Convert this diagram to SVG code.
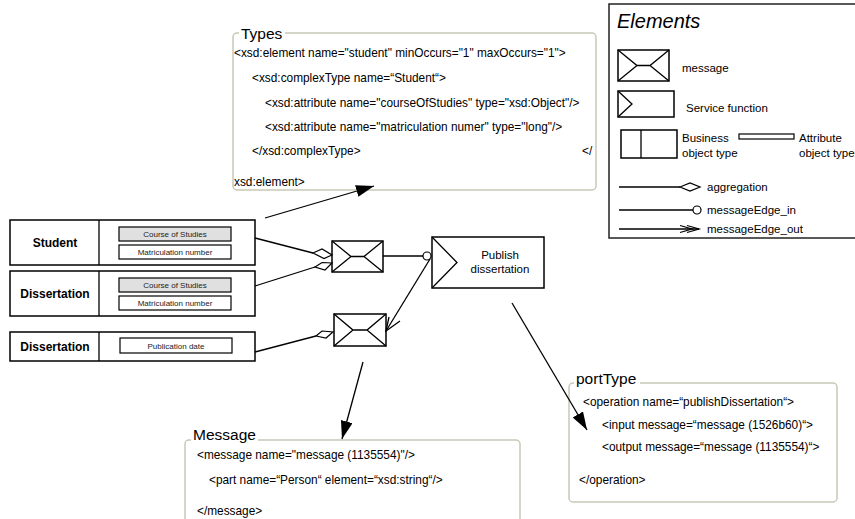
<svg xmlns="http://www.w3.org/2000/svg" width="855" height="519" viewBox="0 0 855 519">
<style>
text{font-family:"Liberation Sans",Arial,sans-serif;fill:#000}
.code{font-size:11.85px}
.ttl{font-size:15.5px}
.box{fill:#fff;stroke:#c8c8b6;stroke-width:1.5}
.n{fill:#fff;stroke:#000;stroke-width:1.5}
.ln{fill:none;stroke:#000;stroke-width:1.3}
.lbl{font-size:11.5px}
.bo{font-size:12px;font-weight:bold;text-anchor:middle}
.at{fill:#fff;stroke:#000;stroke-width:1.2}
.atg{fill:#e0e0e0;stroke:#000;stroke-width:1.2}
.att{font-size:8px;text-anchor:middle;fill:#222}
</style>
<defs>
<marker id="fa" markerWidth="18" markerHeight="12" refX="18" refY="6" orient="auto" markerUnits="userSpaceOnUse">
<path d="M0,0 L18,6 L0,12 z" fill="#000"/>
</marker>
</defs>

<g id="types">
<rect class="box" x="233" y="33" width="363" height="157" rx="4"/>
<rect x="239" y="26" width="46" height="12" fill="#fff"/>
<text class="ttl" x="241" y="39">Types</text>
<text class="code" x="234" y="57">&lt;xsd:element name="student" minOccurs="1" maxOccurs="1"&gt;</text>
<text class="code" x="252" y="82">&lt;xsd:complexType name=“Student“&gt;</text>
<text class="code" x="265" y="107">&lt;xsd:attribute name="courseOfStudies" type="xsd:Object"/&gt;</text>
<text class="code" x="265" y="131">&lt;xsd:attribute name="matriculation numer" type="long"/&gt;</text>
<text class="code" x="252" y="155">&lt;/xsd:complexType&gt;</text>
<text class="code" x="582" y="155">&lt;/</text>
<text class="code" x="234" y="186">xsd:element&gt;</text>
</g>

<g id="legend">
<rect x="609" y="4" width="260" height="234" fill="#fff" stroke="#222" stroke-width="1.5"/>
<text x="617" y="28" font-size="20" font-style="italic">Elements</text>
<rect class="n" x="618" y="50" width="51" height="31"/>
<path class="ln" d="M618,50 L637,65.5 L650,65.5 L669,50 M618,81 L637,65.5 M650,65.5 L669,81"/>
<text class="lbl" x="682" y="72">message</text>
<rect class="n" x="618" y="91" width="56" height="26"/>
<path class="ln" d="M618,91 L632,104 L618,117"/>
<text class="lbl" x="686" y="112">Service function</text>
<rect class="n" x="621" y="130" width="56" height="28"/>
<line class="ln" x1="641" y1="130" x2="641" y2="158"/>
<text class="lbl" x="682" y="142">Business</text>
<text class="lbl" x="682" y="157">object type</text>
<rect class="at" x="739" y="134" width="55" height="5"/>
<text class="lbl" x="799" y="142">Attribute</text>
<text class="lbl" x="799" y="157">object type</text>
<line class="ln" x1="619" y1="187" x2="680" y2="187"/>
<polygon points="680,187 690,183 700,187 690,191" fill="#fff" stroke="#000" stroke-width="1.2"/>
<text class="lbl" x="707" y="191">aggregation</text>
<line class="ln" x1="619" y1="210" x2="693" y2="210"/>
<circle cx="697" cy="210" r="4" fill="#fff" stroke="#000" stroke-width="1.2"/>
<text class="lbl" x="707" y="214">messageEdge_in</text>
<line class="ln" x1="619" y1="229" x2="699" y2="229"/>
<path class="ln" d="M680,225.5 L692,229 L680,232.5 M687,225.5 L699,229 L687,232.5"/>
<text class="lbl" x="707" y="233">messageEdge_out</text>
</g>

<g id="student">
<rect class="n" x="10" y="220" width="245" height="45"/>
<line class="ln" x1="99" y1="220" x2="99" y2="265"/>
<text class="bo" x="55" y="247">Student</text>
<rect class="atg" x="119" y="227" width="112" height="14"/>
<text class="att" x="175" y="237">Course of Studies</text>
<rect class="at" x="119" y="245" width="112" height="14"/>
<text class="att" x="175" y="255">Matriculation number</text>
</g>

<g id="dissertation1">
<rect class="n" x="10" y="271" width="245" height="45"/>
<line class="ln" x1="99" y1="271" x2="99" y2="316"/>
<text class="bo" x="55" y="298">Dissertation</text>
<rect class="atg" x="119" y="278" width="112" height="14"/>
<text class="att" x="175" y="288">Course of Studies</text>
<rect class="at" x="119" y="296" width="112" height="14"/>
<text class="att" x="175" y="306">Matriculation number</text>
</g>

<g id="dissertation2">
<rect class="n" x="10" y="332" width="245" height="29"/>
<line class="ln" x1="99" y1="332" x2="99" y2="361"/>
<text class="bo" x="55" y="351">Dissertation</text>
<rect class="at" x="120" y="338" width="112" height="15"/>
<text class="att" x="176" y="348.5">Publication date</text>
</g>

<g id="msg1">
<rect class="n" x="332" y="241" width="51" height="31"/>
<path class="ln" d="M332,241 L351,256.5 L364,256.5 L383,241 M332,272 L351,256.5 M364,256.5 L383,272"/>
</g>

<g id="msg2">
<rect class="n" x="334" y="314" width="52" height="32"/>
<path class="ln" d="M334,314 L353,330 L367,330 L386,314 M334,346 L353,330 M367,330 L386,346"/>
</g>

<g id="publish">
<rect class="n" x="432" y="237" width="112" height="51"/>
<path class="ln" d="M432,237 L457,262.5 L432,288"/>
<text class="lbl" x="500" y="259" text-anchor="middle">Publish</text>
<text class="lbl" x="500" y="273" text-anchor="middle">dissertation</text>
</g>

<g id="message">
<rect class="box" x="185" y="440" width="335" height="95" rx="4"/>
<rect x="191" y="430" width="67" height="12" fill="#fff"/>
<text class="ttl" x="193" y="440">Message</text>
<text class="code" x="197" y="459">&lt;message name="message (1135554)"/&gt;</text>
<text class="code" x="209" y="484">&lt;part name=“Person“ element=“xsd:string“/&gt;</text>
<text class="code" x="197" y="515">&lt;/message&gt;</text>
</g>

<g id="porttype">
<rect class="box" x="569" y="383" width="268" height="119" rx="4"/>
<rect x="574" y="373" width="66" height="12" fill="#fff"/>
<text class="ttl" x="576" y="384">portType</text>
<text class="code" x="583" y="406">&lt;operation name=“publishDissertation“&gt;</text>
<text class="code" x="602" y="429">&lt;input message=“message (1526b60)“&gt;</text>
<text class="code" x="602" y="451">&lt;output message=“message (1135554)“&gt;</text>
<text class="code" x="579" y="484">&lt;/operation&gt;</text>
</g>

<g id="connectors">
<line class="ln" x1="255" y1="238" x2="313" y2="253"/>
<polygon points="313,253 322,249 332,255 324,258.5" fill="#fff" stroke="#000" stroke-width="1.2"/>
<line class="ln" x1="255" y1="286" x2="315" y2="267"/>
<polygon points="315,267 322,262.5 332,263 325,270" fill="#fff" stroke="#000" stroke-width="1.2"/>
<line class="ln" x1="255" y1="352" x2="316" y2="336"/>
<polygon points="316,336 322,331 333,332 326,338" fill="#fff" stroke="#000" stroke-width="1.2"/>
<line class="ln" x1="383" y1="256" x2="423" y2="256"/>
<circle cx="427" cy="256" r="4" fill="#fff" stroke="#000" stroke-width="1.2"/>
<line class="ln" x1="430" y1="259" x2="386" y2="331"/>
<path class="ln" d="M389,317 L386,331 L400,321"/>
<line class="ln" x1="265" y1="218" x2="374" y2="186" marker-end="url(#fa)"/>
<line class="ln" x1="363" y1="362" x2="342" y2="439" marker-end="url(#fa)"/>
<line class="ln" x1="512" y1="303" x2="587" y2="430" marker-end="url(#fa)"/>
</g>
</svg>
